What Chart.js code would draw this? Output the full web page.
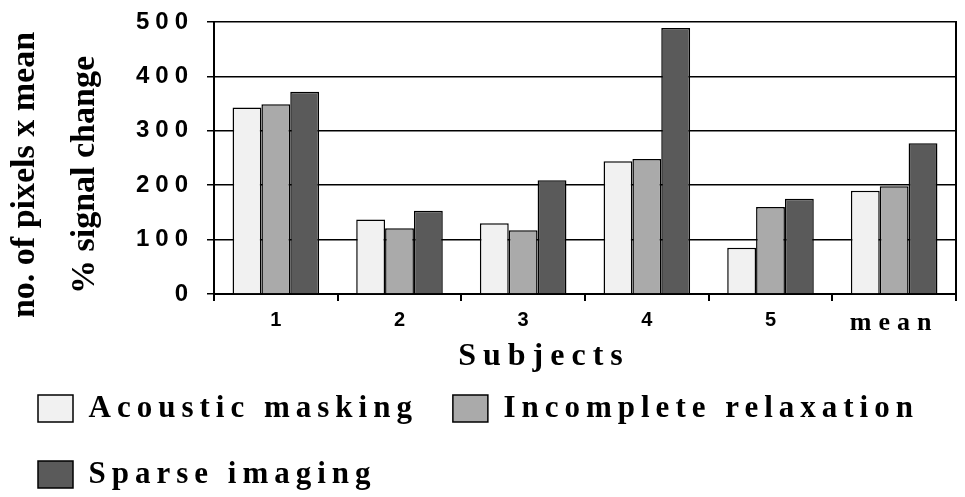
<!DOCTYPE html>
<html>
<head>
<meta charset="utf-8">
<script src="https://cdn.jsdelivr.net/npm/chart.js@4"></script>
<style>
  html, body { margin: 0; padding: 0; background: #fff; }
  #wrap { width: 965px; height: 497px; position: relative; }
</style>
</head>
<body>
<div id="wrap"><canvas id="subjectsChart"></canvas></div>
<script>
// values
const subjects = ["1", "2", "3", "4", "5", "mean"];
const acousticMasking = [343, 137, 130, 244, 85, 190];
const incompleteRelaxation = [349, 121, 117, 248, 160, 198];
const sparseImaging = [372, 153, 209, 489, 175, 277];
const yTicks = [0, 100, 200, 300, 400, 500];
const yTitle = ["no. of pixels x mean", "% signal change"];
const xTitle = "Subjects";

const SERIF = '"Liberation Serif", "Times New Roman", serif';
const SANS = '"Liberation Sans", Arial, sans-serif';

// the figure spaces its letters out, by a different amount per text style
const letterSpacingBySize = { 34: "0px", 31: "6px", 32: "7px", 26: "7px", 24: "6px", 20: "0px" };

const canvas = document.getElementById("subjectsChart");
const ctx2d = canvas.getContext("2d");
["fillText", "measureText"].forEach(name => {
    const orig = ctx2d[name];
    ctx2d[name] = function (...args) {
        const m = /(\d+)px/.exec(this.font);
        this.letterSpacing = (m && letterSpacingBySize[m[1]]) || "0px";
        return orig.apply(this, args);
    };
});

// axis titles: two line y title, and the x title which sits left of centre
const axisTitlePlugin = {
    id: "axisTitles",
    afterDraw(chart) {
        const ctx = chart.ctx;
        const area = chart.chartArea;
        const cy = (area.top + area.bottom) / 2 + 17;
        ctx.save();
        ctx.fillStyle = "#000";
        ctx.textAlign = "center";
        ctx.textBaseline = "middle";
        ctx.font = "bold 34px " + SERIF;
        [25, 85].forEach((x, i) => {
            ctx.save();
            ctx.translate(x, cy);
            ctx.rotate(-Math.PI / 2);
            ctx.fillText(yTitle[i], 0, 0);
            ctx.restore();
        });
        ctx.font = "bold 32px " + SERIF;
        ctx.textBaseline = "alphabetic";
        ctx.fillText(xTitle, 544, area.bottom + 71);
        ctx.restore();
    }
};

new Chart(canvas, {
    type: "bar",
    data: {
        labels: subjects,
        datasets: [
            {
                label: "Acoustic masking",
                data: acousticMasking,
                backgroundColor: "#f1f1f1",
                borderColor: "#000",
                borderWidth: 1.5
            },
            {
                label: "Incomplete relaxation",
                data: incompleteRelaxation,
                backgroundColor: "#aaaaaa",
                borderColor: "#000",
                borderWidth: 1.5
            },
            {
                label: "Sparse imaging",
                data: sparseImaging,
                backgroundColor: "#5a5a5a",
                borderColor: "#000",
                borderWidth: 1.5
            }
        ]
    },
    options: {
        responsive: true,
        maintainAspectRatio: false,
        animation: false,
        categoryPercentage: 0.7,
        barPercentage: 1.0,
        layout: {
            padding: { top: 22, left: 3, right: 1, bottom: -3 }
        },
        plugins: {
            tooltip: { enabled: false },
            legend: {
                display: true,
                position: "bottom",
                align: "start",
                labels: {
                    color: "#000",
                    font: { family: SERIF, size: 31, weight: "bold" },
                    boxWidth: 35,
                    boxHeight: 27,
                    padding: 35
                }
            }
        },
        scales: {
            x: {
                afterFit: scale => {
                    scale.height = 64;
                },
                grid: {
                    offset: true,
                    drawOnChartArea: false,
                    drawTicks: true,
                    tickLength: 7,
                    color: "#000",
                    lineWidth: 2
                },
                border: { display: true, color: "#000", width: 2 },
                ticks: {
                    color: "#000",
                    padding: 9,
                    font: c => c.index === 5
                        ? { family: SERIF, size: 26, weight: "bold", lineHeight: 1 }
                        : { family: SANS, size: 20, weight: "bold", lineHeight: 1 }
                },
                title: { display: false }
            },
            y: {
                min: 0,
                max: 500,
                afterBuildTicks: scale => {
                    scale.ticks = yTicks.map(v => ({ value: v }));
                },
                afterFit: scale => {
                    scale.width = 211;
                    scale.paddingTop = 0;
                    scale.paddingBottom = 0;
                },
                grid: {
                    color: "#000",
                    lineWidth: 1.5,
                    drawTicks: true,
                    tickLength: 7
                },
                border: { display: true, color: "#000", width: 2 },
                ticks: {
                    color: "#000",
                    padding: 13,
                    font: { family: SANS, size: 24, weight: "bold" }
                }
            },
            y2: {
                position: "right",
                min: 0,
                max: 500,
                grid: { display: false },
                border: { display: true, color: "#000", width: 2 },
                ticks: { display: false }
            }
        }
    },
    plugins: [axisTitlePlugin]
});
</script>
</body>
</html>
